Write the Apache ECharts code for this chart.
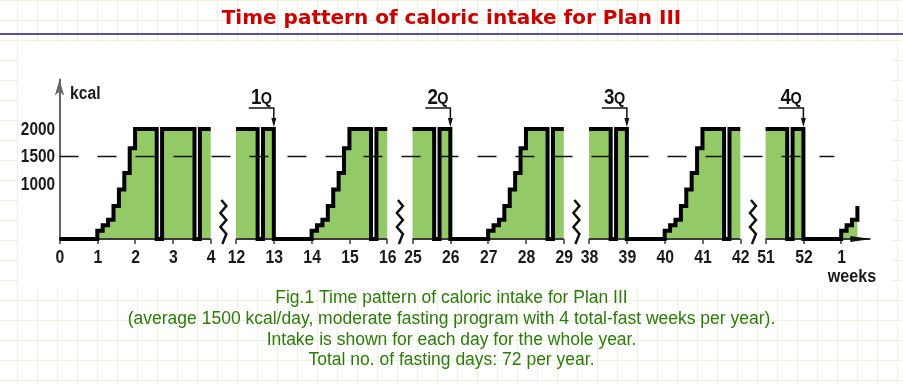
<!DOCTYPE html>
<html><head><meta charset="utf-8">
<script src="https://cdn.jsdelivr.net/npm/echarts@6/dist/echarts.min.js"></script>
<style>
html,body{margin:0;padding:0;}
body{width:903px;height:384px;background-color:#fff;
background-image:linear-gradient(#eef2dd 1px,transparent 1px),linear-gradient(90deg,#eef2dd 1px,transparent 1px);
background-size:20px 20px;background-position:-3px 0px;overflow:hidden;}
#c{width:903px;height:384px;}
</style></head><body><div id="c"></div>
<script>
// ---------- DATA ----------
// week tick labels of each drawn block of the year
const weekLabelsA = [0, 1, 2, 3, 4];
const weekLabelsB = [12, 13, 14, 15, 16];
const weekLabelsC = [25, 26, 27, 28, 29];
const weekLabelsD = [38, 39, 40, 41, 42];
const weekLabelsE = [51, 52, 1];
// daily caloric intake (kcal), one value per day, for each block
const intakeA = [
  0, 0, 0, 0, 0, 0, 0,
  150, 250, 350, 600, 900, 1200, 1650,
  2000, 2000, 2000, 2000, 0, 2000, 2000,
  2000, 2000, 2000, 2000, 0, 2000, 2000];
const intakeB = [
  2000, 2000, 2000, 2000, 0, 2000, 2000,
  0, 0, 0, 0, 0, 0, 0,
  150, 250, 350, 600, 900, 1200, 1650,
  2000, 2000, 2000, 2000, 0, 2000, 2000];
const intakeC = [
  2000, 2000, 2000, 2000, 0, 2000, 2000,
  0, 0, 0, 0, 0, 0, 0,
  150, 250, 350, 600, 900, 1200, 1650,
  2000, 2000, 2000, 2000, 0, 2000, 2000];
const intakeD = [
  2000, 2000, 2000, 2000, 0, 2000, 2000,
  0, 0, 0, 0, 0, 0, 0,
  150, 250, 350, 600, 900, 1200, 1650,
  2000, 2000, 2000, 2000, 0, 2000, 2000];
const intakeE = [
  2000, 2000, 2000, 2000, 0, 2000, 2000,
  0, 0, 0, 0, 0, 0, 0,
  150, 250, 350];
// intake on the first day after each block is cut off
const nextDayIntake = [2000, 2000, 2000, 2000, 600];
const yTickValues = [1000, 1500, 2000];
const averageIntake = 1500;
const quarterWeeks = [13, 26, 39, 52];
const quarterNums = ['1', '2', '3', '4'];
const titleText = 'Time pattern of caloric intake for Plan III';
const captionLines = [
  'Fig.1 Time pattern of caloric intake for Plan III',
  '(average 1500 kcal/day, moderate fasting program with 4 total-fast weeks per year).',
  'Intake is shown for each day for the whole year.',
  'Total no. of fasting days: 72 per year.'];

// ---------- LAYOUT ----------
const BLOCK_STEP = 4.67;      // x units between block starts (4 weeks + break gap)
const X_MAX = 21.5;
const ARROW_END = 21.45;
const DASH_END = 20.5;
const FONT = "'Liberation Sans', Arial, sans-serif";
const SQUEEZE = 0.83;         // condensed look of the figure lettering

const blocks = [
  {labels: weekLabelsA, intake: intakeA},
  {labels: weekLabelsB, intake: intakeB},
  {labels: weekLabelsC, intake: intakeC},
  {labels: weekLabelsD, intake: intakeD},
  {labels: weekLabelsE, intake: intakeE}
];
blocks.forEach((b, i) => { b.start = i * BLOCK_STEP; b.next = nextDayIntake[i]; });

const tickPos = [], tickText = [];
blocks.forEach(b => b.labels.forEach((w, j) => {
  tickPos.push(+(b.start + j).toFixed(2)); tickText.push(String(w));
}));

function blockPoints(b) {
  const pts = b.intake.map((v, d) => [b.start + d / 7, v]);
  pts.push([b.start + b.intake.length / 7, b.next]);
  return pts;
}

const series = [];
blocks.forEach(b => {
  series.push({
    type: 'line', data: blockPoints(b), step: 'end', symbol: 'none', clip: false, z: 1,
    lineStyle: {width: 0, opacity: 0},
    areaStyle: {color: '#93c966', opacity: 1}, silent: true
  });
});
// axis baseline segments
const baseSegs = blocks.map((b, i) => [b.start, i === blocks.length - 1 ? ARROW_END : b.start + b.labels.length - 1, i === blocks.length - 1 ? 1 : 0]);
series.push({
  type: 'custom', z: 2, clip: false, silent: true,
  data: baseSegs,
  renderItem: function (params, api) {
    const a = api.coord([api.value(0), 0]);
    const e = api.coord([api.value(1), 0]);
    const children = [{type: 'line', shape: {x1: a[0], y1: a[1], x2: e[0], y2: e[1]},
      style: {stroke: '#3a3a3a', lineWidth: 2}}];
    if (api.value(2) === 1) {
      children.push({type: 'polygon', shape: {points: [[e[0] - 20, e[1] - 3], [e[0] + 1, e[1]], [e[0] - 20, e[1] + 3]]},
        style: {fill: '#111'}});
    }
    return {type: 'group', children: children};
  }
});
blocks.forEach(b => {
  series.push({
    type: 'line', data: blockPoints(b), step: 'end', symbol: 'none', clip: false, z: 3,
    lineStyle: {color: '#000', width: 4, join: 'miter', cap: 'butt'}, silent: true
  });
});
// average 1500 dashed reference line
series.push({
  type: 'line', data: [[0, averageIntake], [DASH_END, averageIntake]], symbol: 'none', clip: false, z: 4,
  lineStyle: {color: '#111', width: 1.5, type: [19, 19]}, silent: true
});
// break zigzags between blocks
const breakCenters = [];
for (let i = 0; i < blocks.length - 1; i++) {
  breakCenters.push([(blocks[i].start + blocks[i].labels.length - 1 + blocks[i + 1].start) / 2, 0]);
}
series.push({
  type: 'custom', z: 5, clip: false, silent: true, data: breakCenters,
  renderItem: function (params, api) {
    const p = api.coord([api.value(0), 0]);
    const rel = [[-2, -39], [3, -33], [-3, -26], [3, -19], [-3, -12], [3, -5], [-1, 5]];
    return {type: 'polyline', shape: {points: rel.map(r => [p[0] + r[0], p[1] + r[1]])},
      style: {stroke: '#111', lineWidth: 2.5, fill: null, lineJoin: 'miter'}};
  }
});
// x tick labels (week numbers)
series.push({
  type: 'custom', z: 6, clip: false, silent: true, data: tickPos.map(p => [p, 0]),
  renderItem: function (params, api) {
    const p = api.coord([api.value(0), 0]);
    return {type: 'text', x: p[0] + 0.5, y: p[1] + 9, scaleX: SQUEEZE, style: {
      text: tickText[params.dataIndex], align: 'center', verticalAlign: 'top',
      font: 'bold 19px ' + FONT, fill: '#1a1a1a'}};
  }
});
// y tick labels
series.push({
  type: 'custom', z: 6, clip: false, silent: true, data: yTickValues.map(v => [0, v]),
  renderItem: function (params, api) {
    const p = api.coord([0, api.value(1)]);
    return {type: 'text', x: p[0] - 4.5, y: p[1] + 0.5, scaleX: SQUEEZE, style: {
      text: String(yTickValues[params.dataIndex]), align: 'right', verticalAlign: 'middle',
      font: 'bold 18.5px ' + FONT, fill: '#1a1a1a'}};
  }
});
// quarter markers
const quarterPos = quarterWeeks.map(w => {
  for (const b of blocks) { const j = b.labels.indexOf(w); if (j >= 0) return [b.start + j, 2000]; }
});
series.push({
  type: 'custom', z: 6, clip: false, silent: true, data: quarterPos,
  renderItem: function (params, api) {
    const p = api.coord([api.value(0), api.value(1)]);
    const x = p[0], y = p[1];
    return {type: 'group', children: [
      {type: 'polyline', shape: {points: [[x - 25, y - 21], [x, y - 21], [x, y - 8]]},
        style: {stroke: '#111', lineWidth: 1.5, fill: null}},
      {type: 'polygon', shape: {points: [[x - 2.5, y - 11], [x + 2.5, y - 11], [x, y - 2]]}, style: {fill: '#111'}},
      {type: 'text', x: x - 12.5, y: y - 31, scaleX: 0.85, style: {
        text: quarterNums[params.dataIndex], align: 'right', verticalAlign: 'middle',
        font: 'bold 22px ' + FONT, fill: '#111'}},
      {type: 'text', x: x - 13, y: y - 29, scaleX: 0.9, style: {
        text: 'Q', align: 'left', verticalAlign: 'middle',
        font: 'bold 16px ' + FONT, fill: '#111'}}
    ]};
  }
});

const chart = echarts.init(document.getElementById('c'), null, {renderer: 'canvas'});
const captionGraphics = captionLines.map((t, i) => ({
  type: 'text', z: 10, left: 'center', top: 289.5 + i * 20.7,
  style: {text: t, fill: '#2c7a0c', font: '17.5px ' + FONT}
}));
chart.setOption({
  animation: false,
  backgroundColor: 'transparent',
  grid: {left: 59.5, right: 903 - (59.5 + X_MAX * 37.8), top: 79.5, bottom: 145},
  xAxis: {
    type: 'value', min: 0, max: X_MAX,
    axisLine: {show: false}, splitLine: {show: false},
    axisTick: {show: true, customValues: tickPos, length: 5, lineStyle: {color: '#3a3a3a', width: 1.5}},
    axisLabel: {show: false}
  },
  yAxis: {
    type: 'value', min: 0, max: 2900,
    axisLine: {show: true, symbol: ['none', 'arrow'], symbolSize: [7, 16], lineStyle: {color: '#666', width: 2}},
    axisTick: {show: false}, splitLine: {show: false},
    axisLabel: {show: false}
  },
  graphic: [
    {type: 'rect', z: -10, shape: {x: 18, y: 42, width: 874, height: 246}, style: {fill: '#fff'}},
    {type: 'rect', z: 10, shape: {x: 0, y: 33, width: 903, height: 2}, style: {fill: '#5a4ea6'}},
    {type: 'text', z: 10, left: 'center', top: 9, style: {text: titleText, fill: '#c80000',
      font: 'bold 20px "DejaVu Sans", Verdana, sans-serif'}},
    {type: 'text', z: 10, x: 70, y: 94, scaleX: 0.87, style: {text: 'kcal', fill: '#1a1a1a',
      verticalAlign: 'middle', font: 'bold 18px ' + FONT}},
    {type: 'text', z: 10, x: 852, y: 277, scaleX: 0.87, style: {text: 'weeks', fill: '#1a1a1a',
      align: 'center', verticalAlign: 'middle', font: 'bold 18.5px ' + FONT}}
  ].concat(captionGraphics),
  series: series
});
</script></body></html>
